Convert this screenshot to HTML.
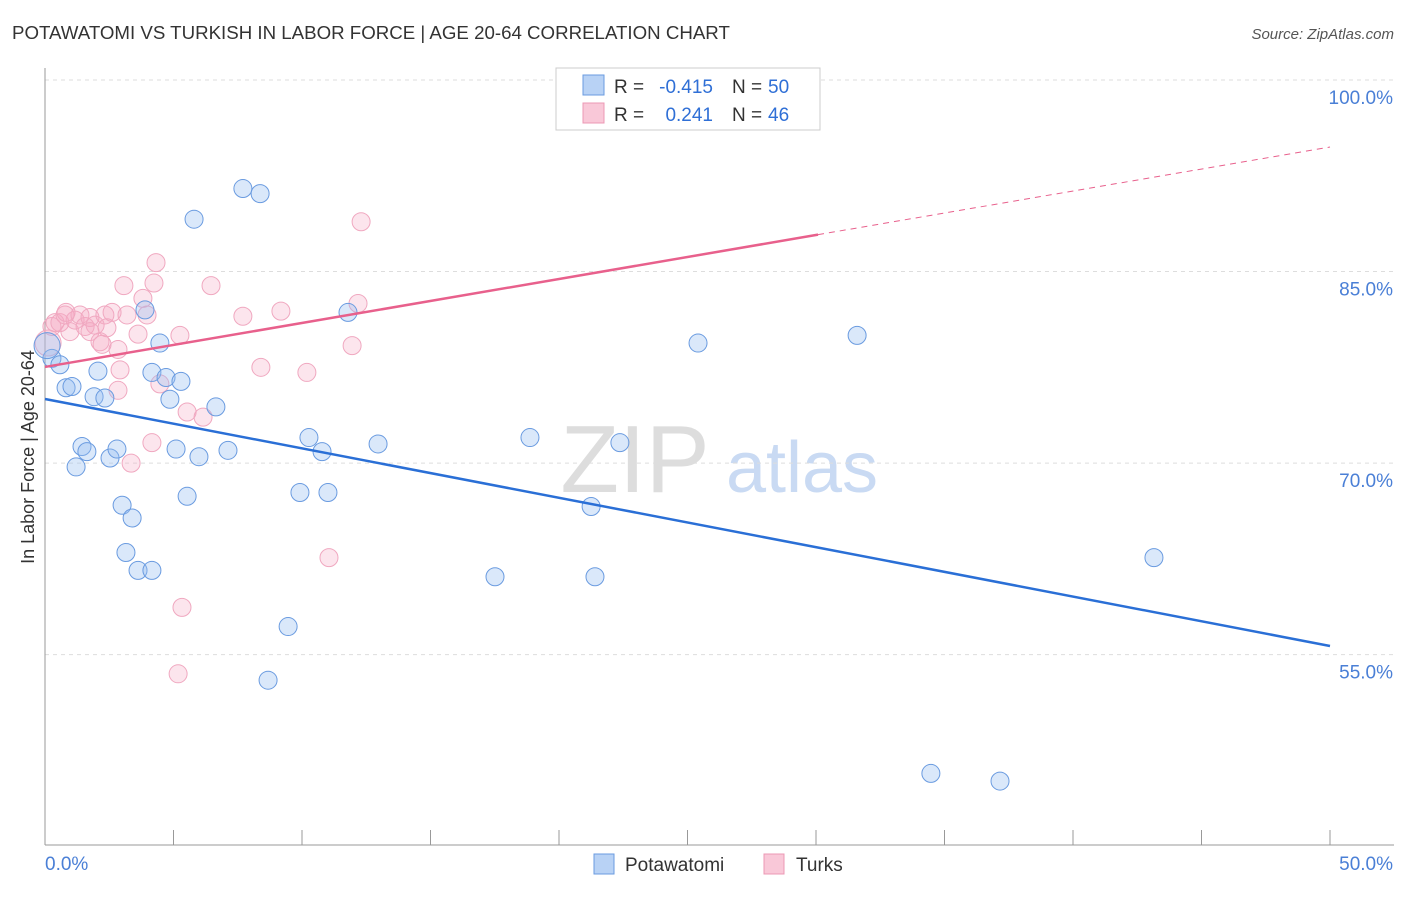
<!DOCTYPE html>
<html><head><meta charset="utf-8"><style>
body{margin:0;background:#fff;font-family:"Liberation Sans",sans-serif;}
svg text{font-family:"Liberation Sans",sans-serif;}
</style></head><body>
<svg id="c" width="1406" height="892" viewBox="0 0 1406 892">
<text x="12" y="39" font-size="18.7" fill="#333">POTAWATOMI VS TURKISH IN LABOR FORCE | AGE 20-64 CORRELATION CHART</text>
<text x="1394" y="39" font-size="15" fill="#555" font-style="italic" text-anchor="end">Source: ZipAtlas.com</text>
<text transform="translate(34,457) rotate(-90)" font-size="18" fill="#333" text-anchor="middle">In Labor Force | Age 20-64</text>
<g>
<text x="635" y="492" font-size="96" fill="#ddd" font-family="Liberation Serif,serif" text-anchor="middle">ZIP</text>
<text x="802" y="492" font-size="72" fill="#c9daf3" text-anchor="middle">atlas</text>
</g>
<g id="grid"></g><g id="axes"></g><g id="pts"></g><g id="trend"></g>
<g>
<rect x="556" y="68" width="264" height="62" fill="#fff" stroke="#ccc"/>
<rect x="583" y="75" width="21" height="20" fill="#b8d2f5" stroke="#6a9be0"/>
<rect x="583" y="103" width="21" height="20" fill="#f9c8d8" stroke="#ec98b4"/>
<text x="614" y="93" font-size="19" fill="#333">R =</text>
<text x="713" y="93" font-size="19" fill="#2f6fd6" text-anchor="end">-0.415</text>
<text x="732" y="93" font-size="19" fill="#333">N =</text>
<text x="768" y="93" font-size="19" fill="#2f6fd6">50</text>
<text x="614" y="121" font-size="19" fill="#333">R =</text>
<text x="713" y="121" font-size="19" fill="#2f6fd6" text-anchor="end">0.241</text>
<text x="732" y="121" font-size="19" fill="#333">N =</text>
<text x="768" y="121" font-size="19" fill="#2f6fd6">46</text>
</g>
<g>
<rect x="594" y="854" width="20" height="20" fill="#b8d2f5" stroke="#6a9be0"/>
<text x="625" y="871" font-size="19" fill="#333">Potawatomi</text>
<rect x="764" y="854" width="20" height="20" fill="#f9c8d8" stroke="#ec98b4"/>
<text x="796" y="871" font-size="19" fill="#333">Turks</text>
</g>
</svg>
<script>
const yTicks=[100,85,70,55];
const xTickLabels=["0.0%","50.0%"];
const blueX=[0.27,0.58,0.82,1.05,2.06,1.91,2.33,1.44,1.63,1.21,2.53,2.80,3.00,3.39,3.15,3.62,4.16,3.89,4.47,4.16,4.71,5.29,4.86,5.10,5.99,5.53,6.65,7.12,5.80,7.70,8.37,9.92,11.01,10.27,10.78,12.96,9.46,8.68,11.79,18.87,21.25,22.37,17.51,21.40,25.41,31.60,43.15,34.47,37.16,0.08];
const blueY=[78.2,77.7,75.9,76.0,77.2,75.2,75.1,71.3,70.9,69.7,70.4,71.1,66.7,65.7,63.0,61.6,61.6,82.0,79.4,77.1,76.7,76.4,75.0,71.1,70.5,67.4,74.4,71.0,89.1,91.5,91.1,67.7,67.7,72.0,70.9,71.5,57.2,53.0,81.8,72.0,66.6,71.6,61.1,61.1,79.4,80.0,62.6,45.7,45.1,79.2];
const pinkX=[0.12,0.27,0.39,0.58,0.78,0.97,1.17,1.36,1.56,1.75,1.95,2.14,2.33,2.41,2.61,2.84,2.92,2.84,3.07,3.19,3.35,3.62,3.81,3.97,4.16,4.24,4.32,4.47,5.25,5.33,5.18,5.53,6.15,6.46,7.70,8.40,9.18,10.19,11.95,12.18,12.30,11.05,29.38,0.82,1.75,2.22];
const pinkY=[79.4,80.7,81.0,81.0,81.6,80.3,81.2,81.6,80.7,81.4,80.8,79.5,81.6,80.6,81.8,78.9,77.3,75.7,83.9,81.6,70.0,80.1,82.9,81.6,71.6,84.1,85.7,76.2,80.0,58.7,53.5,74.0,73.6,83.9,81.5,77.5,81.9,77.1,79.2,82.5,88.9,62.6,100.0,81.8,80.3,79.3];
const blueTrend=[75.02,55.68];
const pinkTrend=[77.53,94.75];
const pinkSolidEnd=30.08;
const NS="http://www.w3.org/2000/svg";
const X=v=>45+v*25.7, Y=v=>80+(100-v)*12.77;
function mk(t,a,p){const e=document.createElementNS(NS,t);for(const k in a)e.setAttribute(k,a[k]);p.appendChild(e);return e;}
const grid=document.getElementById('grid'),axes=document.getElementById('axes'),pts=document.getElementById('pts'),tr=document.getElementById('trend');
yTicks.forEach(t=>{
 const l=mk('line',{x1:45,x2:1394,y1:Y(t),y2:Y(t),stroke:'#ddd','stroke-dasharray':'4,4'},grid);
 
 
 const tx=mk('text',{x:1393,y:Y(t)+24,'font-size':19,fill:'#4a7fd6','text-anchor':'end'},grid);
 tx.textContent=t.toFixed(1)+'%';
 
 
});
const ya=mk('line',{x1:45,x2:45,y1:68,y2:845,stroke:'#999'},axes);


const xa=mk('line',{x1:45,x2:1394,y1:845,y2:845,stroke:'#999'},axes);


for(let i=0;i<=10;i++){const t=mk('line',{x1:X(i*5),x2:X(i*5),y1:830,y2:845,stroke:'#999'},axes);
 
 }
[[0,'start'],[50,'end']].forEach((p,i)=>{const t=mk('text',{x:i?1393:45,y:870,'font-size':19,fill:'#4a7fd6','text-anchor':p[1]},axes);t.textContent=xTickLabels[i];
 
 });
function dots(xs,ys,fill,stroke,name){xs.forEach((x,i)=>{const big=(i===xs.length-1&&name==='potawatomi')||(i===0&&name==='turks');
 const c=mk('circle',{cx:X(x),cy:Y(ys[i]),r:big?13:9,fill:fill,stroke:stroke,'stroke-width':1},pts);
 
 });}
dots(pinkX,pinkY,'rgba(245,170,195,0.3)','#f0a8c0','turks');
dots(blueX,blueY,'rgba(150,190,240,0.35)','#6a9be0','potawatomi');
const bl=mk('line',{x1:X(0),y1:Y(blueTrend[0]),x2:X(50),y2:Y(blueTrend[1]),stroke:'#2a6fd6','stroke-width':2.5},tr);


const pe=pinkTrend[0]+(pinkTrend[1]-pinkTrend[0])*pinkSolidEnd/50;
const pl=mk('line',{x1:X(0),y1:Y(pinkTrend[0]),x2:X(pinkSolidEnd),y2:Y(pe),stroke:'#e8608c','stroke-width':2.5},tr);


const pd=mk('line',{x1:X(pinkSolidEnd),y1:Y(pe),x2:X(50),y2:Y(pinkTrend[1]),stroke:'#e8608c','stroke-width':1,'stroke-dasharray':'6,5'},tr);


</script>
</body></html>
